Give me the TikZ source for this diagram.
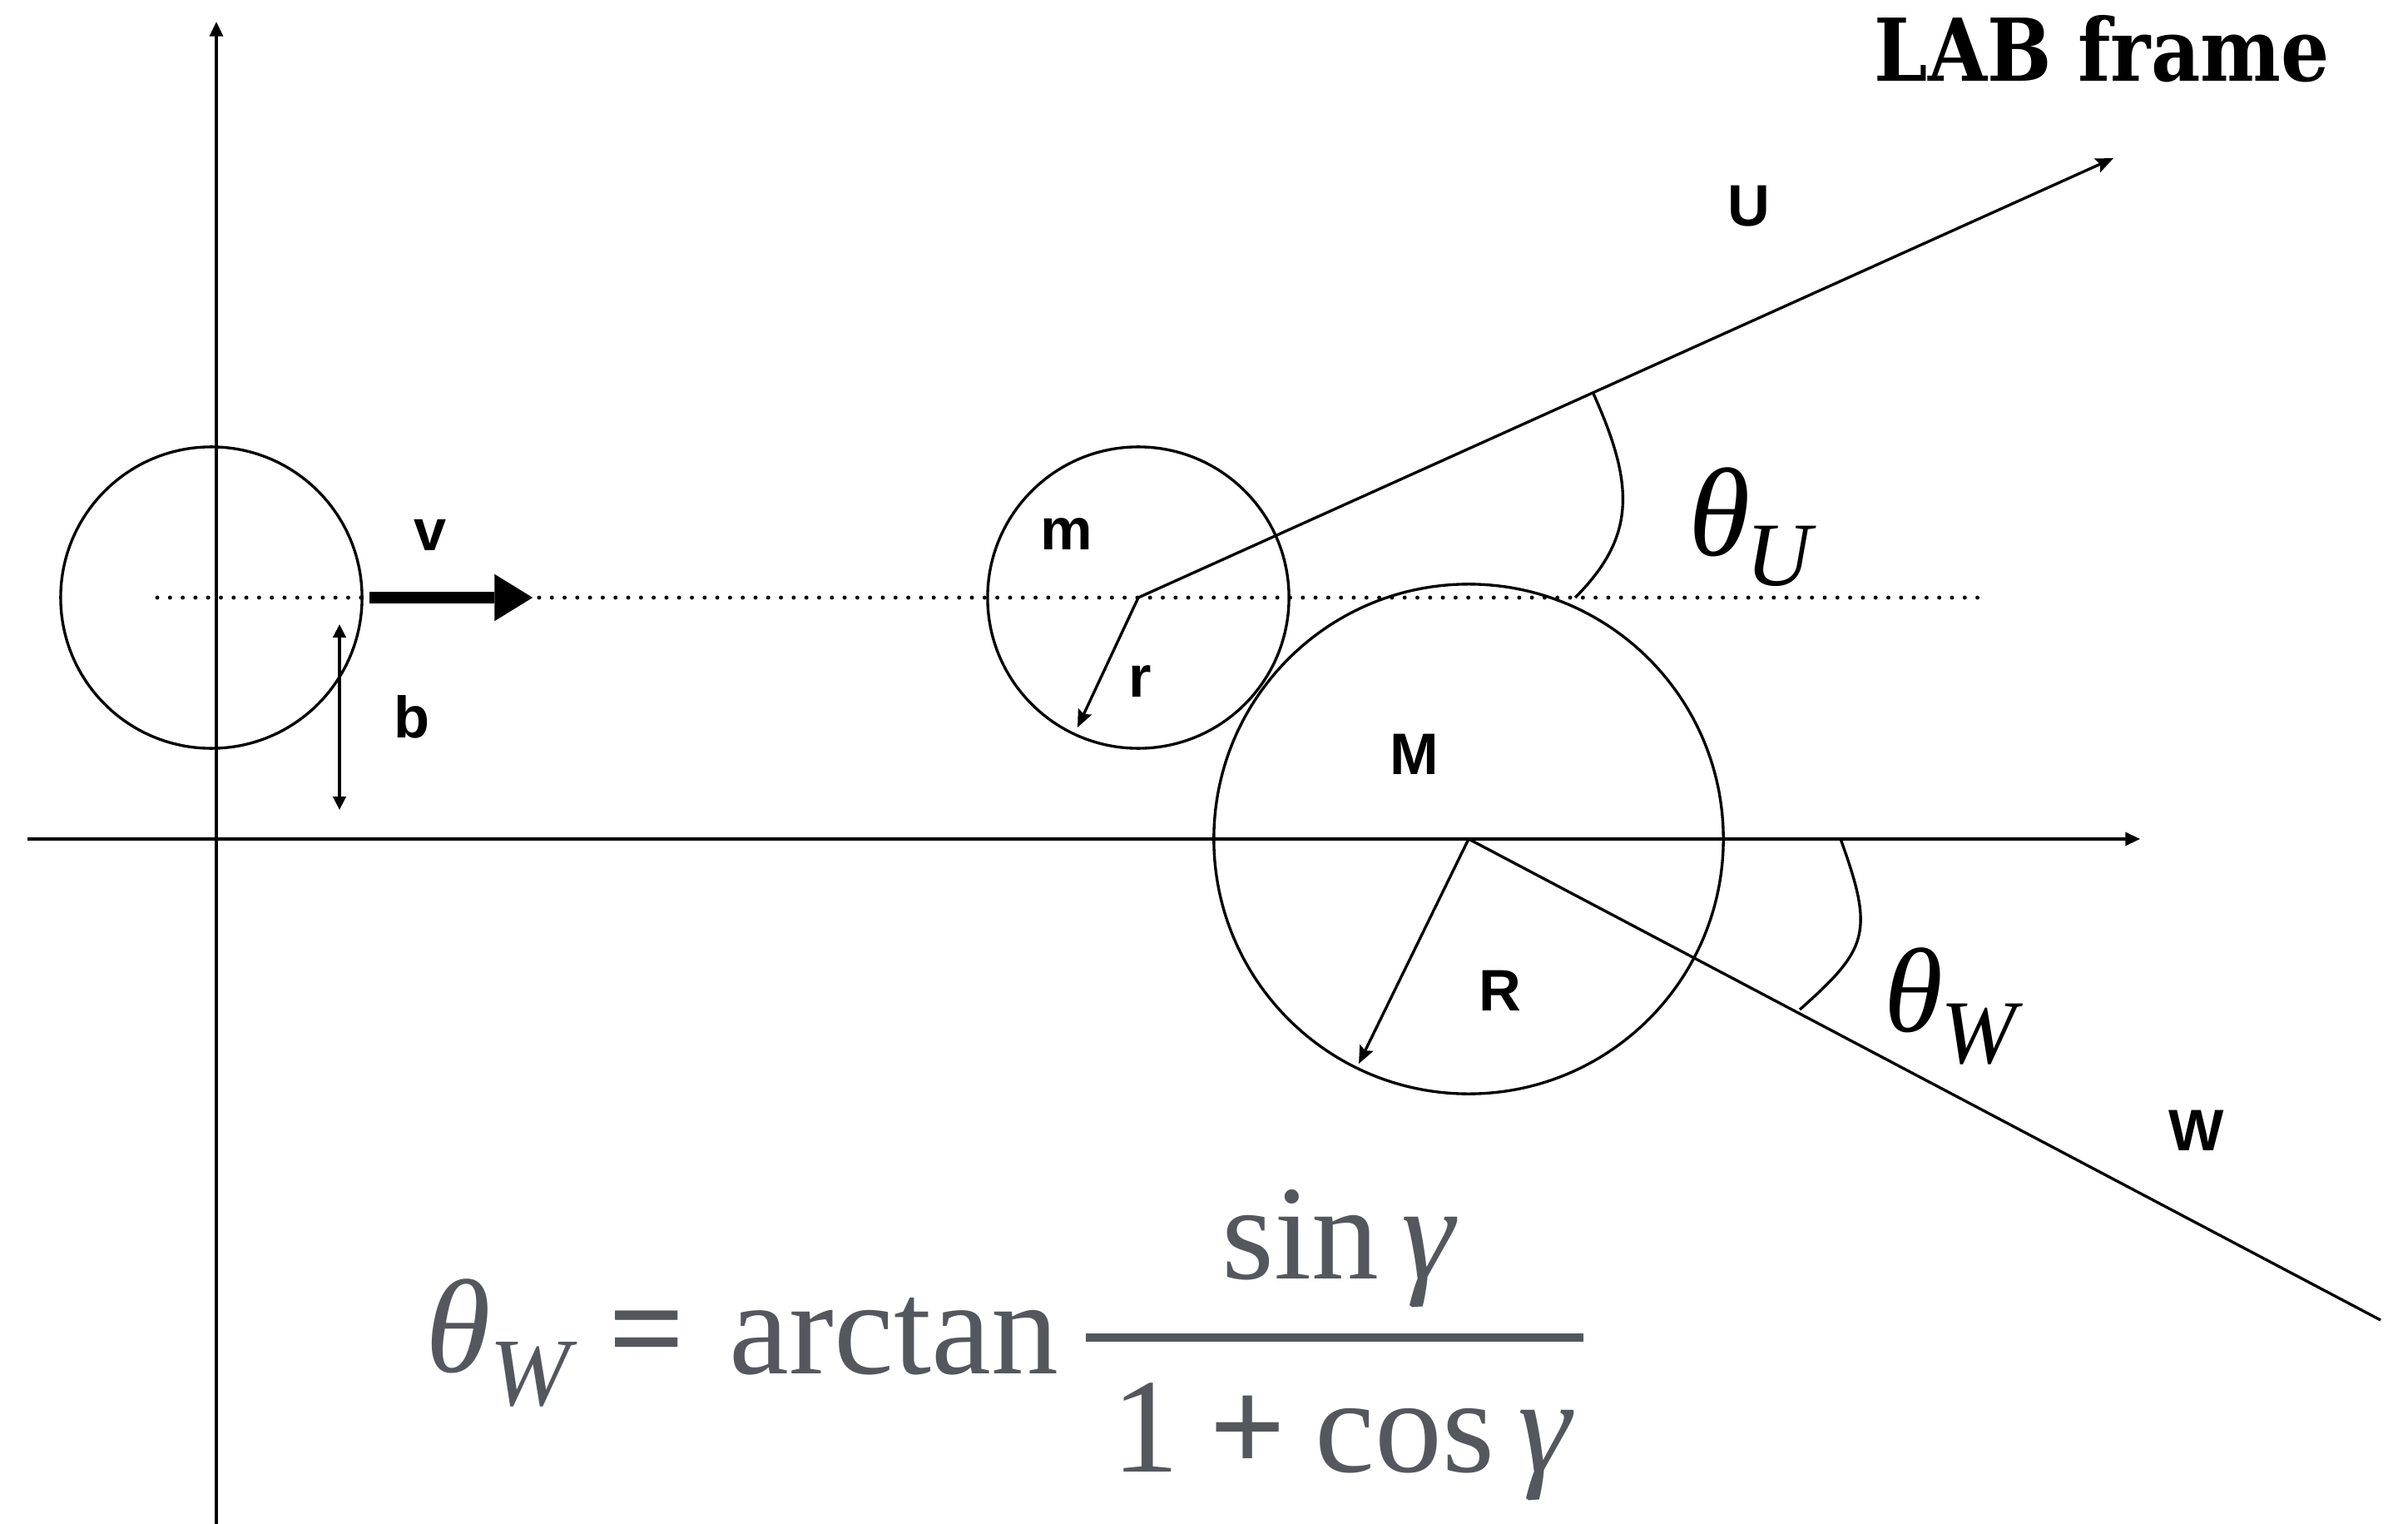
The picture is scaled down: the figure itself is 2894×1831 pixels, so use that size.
\documentclass[tikz,border=0pt]{standalone}
\usepackage{fontspec}
\usepackage{graphicx}
\setmainfont{Liberation Serif}
\newfontfamily\labfont{DejaVu Serif}
\newfontfamily\sansfnt{Liberation Sans}
\usetikzlibrary{arrows.meta}
\definecolor{fgrey}{HTML}{54585E}
\tikzset{
  ln/.style={line width=0.95pt},
  axis/.style={line width=0.95pt,-{Triangle[length=5pt,width=4.5pt]}},
  vec/.style={line width=0.95pt,-{Stealth[length=6pt,width=5pt,inset=1pt]}},
  dotline/.style={line width=1.4pt,line cap=round,dash pattern=on 0pt off 4.35pt},
  ball/.style={circle,draw,line width=0.95pt,inner sep=0pt},
  lbl/.style={inner sep=0pt,font=\sansfnt\bfseries\fontsize{20pt}{24pt}\selectfont},
  gk/.style={inner sep=0pt,anchor=base,font=\itshape\fontsize{43pt}{48pt}\selectfont},
  gksub/.style={inner sep=0pt,anchor=base,font=\itshape\fontsize{31pt}{36pt}\selectfont},
  fm/.style={inner sep=0pt,text=fgrey,font=\fontsize{46pt}{52pt}\selectfont},
}
\begin{document}
\begin{tikzpicture}[x=0.01cm,y=-0.01cm]
\useasboundingbox (0,0) rectangle (2894,1831);

% coordinates
\coordinate (yb) at (260,1835);
\coordinate (yt) at (260,26);
\coordinate (xl) at (33,1008);
\coordinate (xr) at (2572,1008);
\coordinate (dl) at (189,718);
\coordinate (dr) at (2388,718);
\coordinate (vs) at (444,718);
\coordinate (ve) at (640,718);
\coordinate (bt) at (408,750);
\coordinate (bb) at (408,973);
\coordinate (rend) at (1295,874);
\coordinate (Rend) at (1633,1278);
\coordinate (uend) at (2540,190);
\coordinate (wend) at (2861,1586);
\coordinate (au1) at (1915,473);
\coordinate (au2) at (1893,718);
\coordinate (aw1) at (2212,1008);
\coordinate (aw2) at (2163,1213);

% balls
\node[ball,minimum size=3.62cm] (c1) at (254,718) {};
\node[ball,minimum size=3.62cm] (cm) at (1368,718) {};
\node[ball,minimum size=6.12cm] (cM) at (1765,1008) {};

% axes
\draw[axis] (yb) -- (yt);
\draw[axis] (xl) -- (xr);

% dotted line of flight
\draw[dotline] (dl) -- (dr);

% velocity arrow
\draw[line width=4pt,-{Triangle[length=13pt,width=16pt,line width=0.01pt]}] (vs) -- (ve);

% impact parameter
\draw[line width=0.95pt,{Triangle[length=4.5pt,width=4.3pt]}-{Triangle[length=4.5pt,width=4.3pt]}] (bt) -- (bb);

% radii
\draw[vec] (cm.center) -- (rend);
\draw[vec] (cM.center) -- (Rend);

% outgoing directions
\draw[vec] (cm.center) -- (uend);
\draw[ln] (cM.center) -- (wend);

% angle arcs
\draw[ln] (au1) .. controls (1964,582) and (1967,644) .. (au2);
\draw[ln] (aw1) .. controls (2253,1121) and (2245,1140) .. (aw2);

% labels
\node[lbl] (lv) at (517,643) {v};
\node[lbl] (lb) at (495,861) {b};
\node[lbl] (lm) at (1282,642) {m};
\node[lbl] (lr) at (1370,819) {r};
\node[lbl] (lM) at (1700,906) {M};
\node[lbl] (lR) at (1803,1190) {R};
\node[lbl] (lU) at (2102,248) {U};
\node[lbl] (lW) at (2640,1358) {W};

% angle labels
\node[gk] (thU) at (2067,668) {θ};
\node[gksub] (thUs) at (2138,703) {U};
\node[gk,font=\itshape\fontsize{41pt}{46pt}\selectfont] (thW) at (2300,1239) {θ};
\node[gksub] (thWs) at (2378,1277) {W};

% title
\node[inner sep=0pt,anchor=base west,font=\labfont\bfseries\fontsize{29.6pt}{34pt}\selectfont] (title) at (2252,98) {\scalebox{0.88}[1]{LAB frame}};

% formula
\node[fm,anchor=base,font=\itshape\fontsize{45.5pt}{52pt}\selectfont] (fth) at (551,1648) {θ};
\node[fm,anchor=base,font=\itshape\fontsize{33pt}{38pt}\selectfont] (fW) at (637,1688) {W};
\node[fm,anchor=base,font=\bfseries\fontsize{46pt}{52pt}\selectfont] (feq) at (778,1650) {=};
\node[fm,anchor=base west] (farc) at (876,1650) {arctan};
\node[fm,anchor=base] (fnum) at (1610,1536) {sin\hspace{0.17em}\textit{γ}};
\node[fm,anchor=base] (fden) at (1614,1768) {1\hspace{0.22em}\textbf{+}\hspace{0.22em}cos\hspace{0.17em}\textit{γ}};
\coordinate (fb1) at (1305,1607);
\coordinate (fb2) at (1903,1607);
\draw[fgrey,line width=3.1pt] (fb1) -- (fb2);
\end{tikzpicture}
\end{document}
